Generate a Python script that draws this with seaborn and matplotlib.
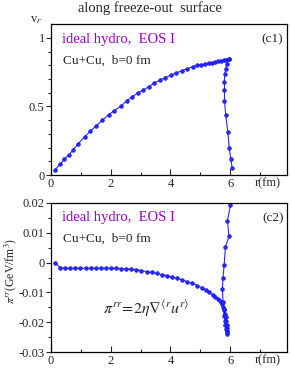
import numpy as np
import pandas as pd
import matplotlib
matplotlib.use("Agg")
import matplotlib.pyplot as plt
import seaborn as sns

# panel (c1): radial flow velocity along the freeze-out surface
r_vel = [0.13, 0.31, 0.45, 0.59, 0.73, 0.92, 1.13, 1.32, 1.52, 1.72, 1.93, 2.12,
         2.33, 2.53, 2.72, 2.91, 3.09, 3.28, 3.45, 3.64, 3.82, 4.03, 4.2, 4.38,
         4.55, 4.75, 4.9, 5.03, 5.16, 5.28, 5.39, 5.5, 5.6, 5.69, 5.78, 5.86, 5.95,
         5.97, 5.88, 5.85, 5.82, 5.81, 5.81, 5.81, 5.85, 5.92, 5.97, 6.02, 6.07]
v_r = [0.037, 0.08, 0.115, 0.146, 0.18, 0.23, 0.28, 0.32, 0.36, 0.40, 0.44, 0.47,
       0.50, 0.54, 0.57, 0.60, 0.62, 0.645, 0.67, 0.69, 0.71, 0.73, 0.745, 0.76,
       0.775, 0.79, 0.80, 0.805, 0.81, 0.815, 0.82, 0.825, 0.83, 0.833, 0.836, 0.84, 0.843,
       0.846, 0.81, 0.77, 0.735, 0.68, 0.62, 0.54, 0.44, 0.316, 0.196, 0.118, 0.049]

# panel (c2): shear stress pi^rr along the freeze-out surface
r_pi = [0.14, 0.31, 0.48, 0.65, 0.82, 0.99, 1.16, 1.33, 1.5, 1.67, 1.84, 2.01,
        2.18, 2.35, 2.52, 2.69, 2.86, 3.03, 3.2, 3.37, 3.54, 3.71, 3.88, 4.05,
        4.22, 4.39, 4.56, 4.73, 4.9, 5.05, 5.18, 5.3, 5.41, 5.5, 5.58, 5.65,
        5.71, 5.76, 5.8, 5.83, 5.85, 5.87, 5.88, 5.89, 5.9, 5.9,
        5.88, 5.86, 5.84, 5.82, 5.8, 5.78, 5.76, 5.74, 5.76, 5.8, 5.84, 5.96, 5.91, 6.01]
pi_rr = [0.0, -0.0017, -0.0019, -0.0019, -0.0019, -0.0019, -0.0019, -0.0019, -0.0019,
         -0.0019, -0.0019, -0.0019, -0.0019, -0.002, -0.0021, -0.0022, -0.0024, -0.0027,
         -0.003, -0.0033, -0.0036, -0.004, -0.0044, -0.0048, -0.0053, -0.0058, -0.0064,
         -0.007, -0.0077, -0.0084, -0.0091, -0.0099, -0.0107, -0.0114, -0.0122, -0.013,
         -0.0139, -0.0149, -0.016, -0.0172, -0.0184, -0.0196, -0.0208, -0.022, -0.023, -0.0238,
         -0.0232, -0.0222, -0.021, -0.0195, -0.018, -0.0157, -0.0131, -0.009, -0.0051,
         -0.0007, 0.0052, 0.0088, 0.014, 0.0193]

x_ticks = [0, 2, 4, 6]
v_ticks = [0, 0.5, 1]
v_labels = ["0", "0.5", "1"]
pi_ticks = [-0.03, -0.02, -0.01, 0, 0.01, 0.02]
pi_labels = ["-0.03", "-0.02", "-0.01", "0", "0.01", "0.02"]

sns.set_theme(style="ticks")
plt.rcParams["font.family"] = ["Liberation Serif", "DejaVu Serif"]
plt.rcParams["mathtext.fontset"] = "stix"
plt.rcParams["axes.unicode_minus"] = False

fig = plt.figure(figsize=(2.91, 3.71), dpi=100)
ax1 = fig.add_axes([0.175, 0.528, 0.811, 0.407])
ax2 = fig.add_axes([0.175, 0.051, 0.811, 0.402])

blue = "#2a2aff"
purple = "#9a00d8"

df_v = pd.DataFrame({"r": r_vel, "v": v_r})
df_p = pd.DataFrame({"r": r_pi, "pi": pi_rr})
line_kw = dict(sort=False, estimator=None, color=blue, lw=0.8, marker="o",
               markersize=2.6, markeredgecolor="#1010ee", markeredgewidth=0.5)
sns.lineplot(data=df_v, x="r", y="v", ax=ax1, **line_kw)
sns.lineplot(data=df_p, x="r", y="pi", ax=ax2, **line_kw)

for ax in (ax1, ax2):
    ax.set_xlim(0, 7.9)
    ax.set_xticks(x_ticks)
    ax.set_xticks([1, 3, 5, 7], minor=True)
    ax.set_xlabel("")
    ax.set_ylabel("")
    for s in ax.spines.values():
        s.set_visible(True)
        s.set_linewidth(0.9)
        s.set_color("black")
    ax.tick_params(axis="x", direction="in", length=4, width=0.8, labelsize=9, pad=2)
    ax.tick_params(axis="x", which="minor", direction="in", length=2.5, width=0.8)
    ax.tick_params(axis="y", direction="out", length=3.5, width=0.8, labelsize=9, pad=1)
    ax.tick_params(axis="y", which="minor", direction="out", length=2, width=0.8)
    ax.text(1.0 - 0.08, -0.015, "r(fm)", transform=ax.transAxes, ha="center",
            va="top", fontsize=9)
    ax.text(0.045, 0.9, "ideal hydro,  EOS I", transform=ax.transAxes,
            color=purple, fontsize=10.5, va="center")
    ax.text(0.05, 0.76, "Cu+Cu,  b=0 fm", transform=ax.transAxes,
            fontsize=9.5, va="center")

ax1.set_ylim(0, 1.1)
ax1.set_yticks(v_ticks)
ax1.set_yticklabels(v_labels)
ax1.set_yticks([0.1, 0.2, 0.3, 0.4, 0.6, 0.7, 0.8, 0.9], minor=True)
ax1.text(0.985, 0.9, "(c1)", transform=ax1.transAxes, ha="right", va="center", fontsize=9.5)
fig.text(0.125, 0.945, r"v$_r$", fontsize=9, ha="center", va="center")

ax2.set_ylim(-0.03, 0.02)
ax2.set_yticks(pi_ticks)
ax2.set_yticklabels(pi_labels)
ax2.set_yticks([-0.025, -0.015, -0.005, 0.005, 0.015], minor=True)
ax2.text(0.985, 0.9, "(c2)", transform=ax2.transAxes, ha="right", va="center", fontsize=9.5)
ax2.text(0.22, 0.3, r"$\pi^{rr}\!=\!2\eta\nabla^{\langle r}u^{r\rangle}$",
         transform=ax2.transAxes, fontsize=11.5, va="center")
fig.text(0.038, 0.27, r"$\pi^{rr}$(GeV/fm$^3$)", rotation=90, fontsize=8.5,
         ha="center", va="center")

fig.text(0.515, 0.978, "along freeze-out  surface", fontsize=10.5, ha="center", va="center")

fig.savefig("out.png", dpi=100)
